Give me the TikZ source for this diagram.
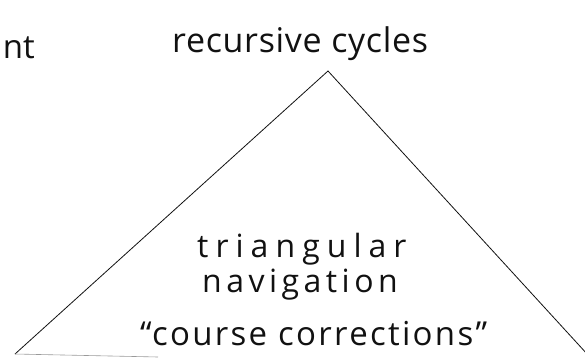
\documentclass[tikz,border=0pt]{standalone}
\usepackage{fontspec}
\setmainfont{Open Sans}
\definecolor{ink}{HTML}{111111}
\definecolor{faint}{HTML}{9A9A9A}

\begin{document}
\begin{tikzpicture}[x=1pt,y=-1pt,
  hand/.style={text=ink,inner sep=0pt,anchor=base west}]
  \useasboundingbox (0,0) rectangle (585,358);
  % corners of the triangle
  \coordinate (apex) at (328,71);
  \coordinate (left) at (15,354);
  \coordinate (right) at (588,355);
  \coordinate (baseend) at (158,357);
  % sides
  \draw[ink,line width=0.8pt] (left) -- (apex) -- (right);
  \draw[faint,line width=0.6pt] (left) -- (baseend);
  % labels
  \node[hand,font=\fontsize{34}{37}\selectfont\addfontfeatures{LetterSpace=2}] (top) at (172,53) {recursive cycles};
  \node[hand,anchor=base east,font=\fontsize{33}{36}\selectfont] (cut) at (35,59) {nt};
  \node[hand,font=\fontsize{32}{35}\selectfont\addfontfeatures{LetterSpace=22}] (tri) at (197,257) {triangular};
  \node[hand,font=\fontsize{32}{35}\selectfont\addfontfeatures{LetterSpace=14}] (nav) at (202,292) {navigation};
  \node[hand,font=\fontsize{33}{36}\selectfont\addfontfeatures{LetterSpace=7}] (course) at (140,345) {``course corrections''};
\end{tikzpicture}
\end{document}
